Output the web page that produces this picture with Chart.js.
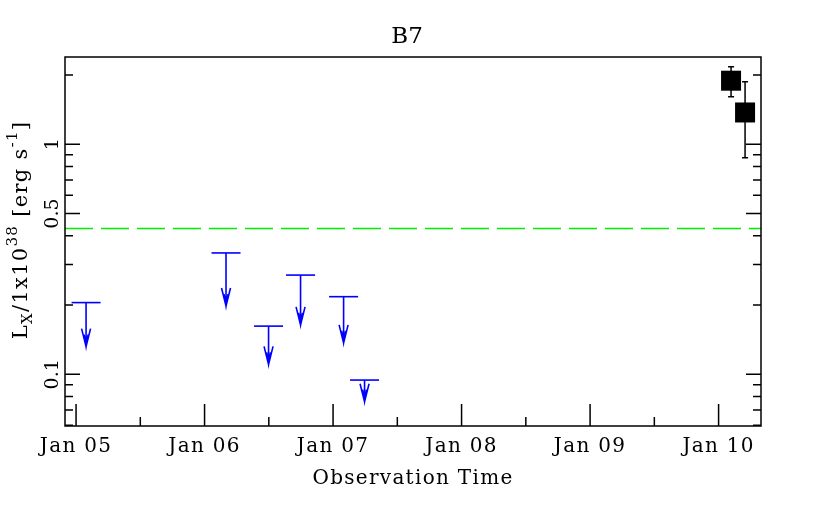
<!DOCTYPE html>
<html>
<head>
<meta charset="utf-8">
<title>B7</title>
<script src="https://cdn.jsdelivr.net/npm/chart.js@4.4.0/dist/chart.umd.min.js"></script>
<style>
  html, body { margin: 0; padding: 0; background: #fff; }
  #wrap { width: 830px; height: 515px; }
</style>
</head>
<body>
<div id="wrap"><canvas id="myChart" width="830" height="515"></canvas></div>
<script>
// upper limits (blue), dates as decimal years
const ulDates = [2005.078, 2006.167, 2006.498, 2006.747, 2007.082, 2007.245];
const ulLimits = [0.205, 0.337, 0.162, 0.270, 0.2175, 0.0944];
const ulArrowTo = [0.132, 0.198, 0.1105, 0.164, 0.137, 0.076];

// detections (black squares) with error bars
const detDates = [2010.097, 2010.206];
const detLx = [1.89, 1.375];
const detErrLo = [1.61, 0.874];
const detErrHi = [2.175, 1.872];

// dashed green level
const threshold = 0.43;

// axes
const xMin = 2004.914, xMax = 2010.33;
const yMin = 0.0596, yMax = 2.396;
const xTickYears = [2005, 2006, 2007, 2008, 2009, 2010];
const xTickLabels = ['Jan 05', 'Jan 06', 'Jan 07', 'Jan 08', 'Jan 09', 'Jan 10'];
const yMajor = [0.1, 0.5, 1];
const yTickLabels = ['0.1', '0.5', '1'];
const yMinor = [0.06, 0.07, 0.08, 0.09, 0.2, 0.3, 0.4, 0.6, 0.7, 0.8, 0.9, 2];

const FONT = '"DejaVu Serif", serif';

function zip(xs, ys) {
  return xs.map((x, i) => ({x: x, y: ys[i]}));
}

// rysowanie ramki, tickow, opisow i strzalek
const decor = {
  id: 'decor',
  afterDatasetsDraw(chart) {
    const ctx = chart.ctx;
    const xs = chart.scales.x, ys = chart.scales.y;
    ctx.save();
    // upper limit arrows
    ctx.strokeStyle = '#0000ff';
    ctx.lineWidth = 1.6;
    for (let i = 0; i < ulDates.length; i++) {
      const px = xs.getPixelForValue(ulDates[i]);
      const y0 = ys.getPixelForValue(ulLimits[i]);
      const y1 = ys.getPixelForValue(ulArrowTo[i]);
      ctx.beginPath();
      ctx.moveTo(px, y0);
      ctx.lineTo(px, y1);
      ctx.moveTo(px - 4.5, y1 - 18);
      ctx.lineTo(px, y1);
      ctx.lineTo(px + 4.5, y1 - 18);
      ctx.moveTo(px - 2, y1 - 12);
      ctx.lineTo(px, y1);
      ctx.lineTo(px + 2, y1 - 12);
      ctx.stroke();
    }
    // error bars
    ctx.strokeStyle = '#000';
    ctx.lineWidth = 1.5;
    for (let i = 0; i < detDates.length; i++) {
      const px = xs.getPixelForValue(detDates[i]);
      const lo = ys.getPixelForValue(detErrLo[i]);
      const hi = ys.getPixelForValue(detErrHi[i]);
      ctx.beginPath();
      ctx.moveTo(px, lo); ctx.lineTo(px, hi);
      ctx.moveTo(px - 3, lo); ctx.lineTo(px + 3, lo);
      ctx.moveTo(px - 3, hi); ctx.lineTo(px + 3, hi);
      ctx.stroke();
    }
    ctx.restore();
  },
  afterDraw(chart) {
    const ctx = chart.ctx;
    const a = chart.chartArea;
    const xs = chart.scales.x, ys = chart.scales.y;
    ctx.save();
    ctx.strokeStyle = '#000';
    ctx.fillStyle = '#000';
    ctx.lineWidth = 1.5;
    ctx.strokeRect(a.left, a.top, a.right - a.left, a.bottom - a.top);

    ctx.beginPath();
    // y ticks, left and right, inward
    const yTick = (v, len) => {
      const py = ys.getPixelForValue(v);
      ctx.moveTo(a.left, py); ctx.lineTo(a.left + len, py);
      ctx.moveTo(a.right, py); ctx.lineTo(a.right - len, py);
    };
    yMajor.forEach(v => yTick(v, 15));
    yMinor.forEach(v => yTick(v, 8));
    // x ticks, bottom only
    xTickYears.forEach(yr => {
      const px = xs.getPixelForValue(yr);
      ctx.moveTo(px, a.bottom); ctx.lineTo(px, a.bottom - 22);
      const ph = xs.getPixelForValue(yr + 0.5);
      if (ph < a.right) { ctx.moveTo(ph, a.bottom); ctx.lineTo(ph, a.bottom - 9); }
    });
    const pPrev = xs.getPixelForValue(xTickYears[0] - 0.5);
    if (pPrev > a.left) { ctx.moveTo(pPrev, a.bottom); ctx.lineTo(pPrev, a.bottom - 9); }
    ctx.stroke();

    // x tick labels
    ctx.font = '20px ' + FONT;
    ctx.letterSpacing = '1.3px';
    ctx.textAlign = 'center';
    ctx.textBaseline = 'alphabetic';
    xTickYears.forEach((yr, i) => {
      ctx.fillText(xTickLabels[i], xs.getPixelForValue(yr), 452);
    });
    // x title
    ctx.fillText('Observation Time', (a.left + a.right) / 2, 484);
    // title
    ctx.font = '23px ' + FONT;
    ctx.letterSpacing = '0px';
    ctx.fillText('B7', 407, 43);

    // y tick labels, rotated
    ctx.font = '19px ' + FONT;
    yMajor.forEach((v, i) => {
      ctx.save();
      ctx.translate(58, ys.getPixelForValue(v));
      ctx.rotate(-Math.PI / 2);
      ctx.fillText(yTickLabels[i], 0, 0);
      ctx.restore();
    });

    // y title with sub/superscripts
    const parts = [
      {t: 'L', s: 21, dy: 0},
      {t: 'X', s: 15, dy: 5},
      {t: '/1x10', s: 21, dy: 0},
      {t: '38', s: 15, dy: -10},
      {t: ' [erg s', s: 21, dy: 0},
      {t: '-1', s: 15, dy: -10},
      {t: ']', s: 21, dy: 0}
    ];
    ctx.letterSpacing = '1.3px';
    ctx.textAlign = 'left';
    let total = 0;
    parts.forEach(p => { ctx.font = p.s + 'px ' + FONT; p.w = ctx.measureText(p.t).width; total += p.w; });
    ctx.save();
    ctx.translate(27, 230);
    ctx.rotate(-Math.PI / 2);
    let cx = -total / 2;
    parts.forEach(p => {
      ctx.font = p.s + 'px ' + FONT;
      ctx.fillText(p.t, cx, p.dy);
      cx += p.w;
    });
    ctx.restore();
    ctx.restore();
  }
};

const ctx = document.getElementById('myChart').getContext('2d');
const chart = new Chart(ctx, {
  type: 'scatter',
  data: {
    datasets: [
      {
        type: 'line',
        data: [{x: xMin, y: threshold}, {x: xMax, y: threshold}],
        borderColor: '#00ee00',
        borderWidth: 1.5,
        borderDash: [28, 8],
        pointRadius: 0,
        fill: false
      },
      {
        data: zip(ulDates, ulLimits),
        pointStyle: 'line',
        pointRadius: 14.5,
        borderColor: '#0000ff',
        borderWidth: 1.6
      },
      {
        data: zip(detDates, detLx),
        pointStyle: 'rect',
        pointRadius: 14.14,
        backgroundColor: '#000',
        borderColor: '#000',
        borderWidth: 0
      }
    ]
  },
  options: {
    responsive: false,
    animation: false,
    events: [],
    layout: { padding: { left: 65, top: 57, right: 69, bottom: 89 } },
    plugins: { legend: { display: false }, tooltip: { enabled: false } },
    scales: {
      x: { type: 'linear', min: xMin, max: xMax, bounds: 'data', display: false },
      y: { type: 'logarithmic', min: yMin, max: yMax, bounds: 'data', display: false }
    }
  },
  plugins: [decor]
});
</script>
</body>
</html>
